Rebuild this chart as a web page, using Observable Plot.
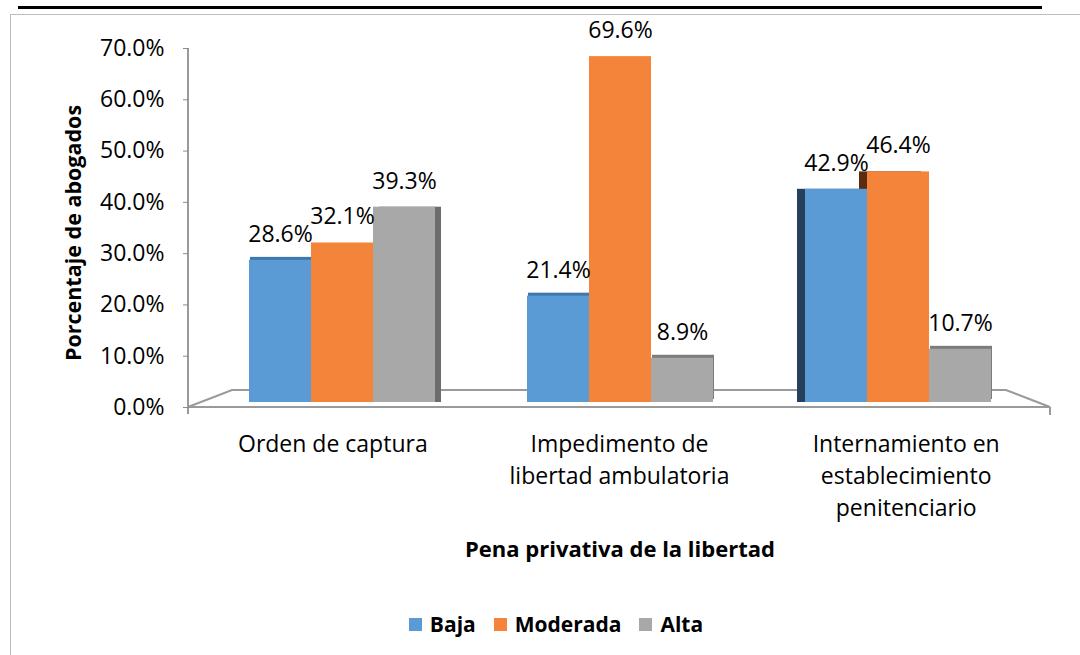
<!DOCTYPE html>
<html><head><meta charset="utf-8">
<script src="https://cdn.jsdelivr.net/npm/d3@7"></script>
<script src="https://cdn.jsdelivr.net/npm/@observablehq/plot@0.6"></script>
<style>
body{margin:0;background:#fff;font-family:"Open Sans",sans-serif;color:#000;}
#wrap{position:relative;width:1080px;height:655px;overflow:hidden;background:#fff;}
#topline{position:absolute;left:18px;top:6px;width:1024px;height:3px;background:#000;}
#frame{position:absolute;left:10px;top:14px;width:1100px;height:700px;border:1.5px solid #bdbdbd;}
#chart{position:absolute;left:0;top:0;}
#ytitle{position:absolute;left:-77px;top:218px;width:300px;line-height:30px;text-align:center;transform:rotate(-90deg);font-weight:bold;font-size:21.5px;}
#xtitle{position:absolute;left:320px;width:600px;top:533px;line-height:30px;text-align:center;font-weight:bold;font-size:22px;}
#legend{position:absolute;left:256px;width:600px;top:610px;display:flex;justify-content:center;align-items:center;font-weight:bold;font-size:21px;line-height:28px;}
#legend .item{display:flex;align-items:center;margin:0 9px;}
#legend .sw{width:13px;height:13px;margin-right:8px;}
</style></head>
<body>
<div id="wrap">
  <div id="topline"></div>
  <div id="frame"></div>
  <div id="chart"></div>
  <div id="ytitle">Porcentaje de abogados</div>
  <div id="xtitle">Pena privativa de la libertad</div>
  <div id="legend"></div>
</div>
<script>
const categories = ["Orden de captura", "Impedimento de libertad ambulatoria", "Internamiento en establecimiento penitenciario"];
const tickLabels = ["Orden de captura", "Impedimento de\nlibertad ambulatoria", "Internamiento en\nestablecimiento\npenitenciario"];
const series = ["Baja", "Moderada", "Alta"];
const baja = [28.6, 21.4, 42.9];
const moderada = [32.1, 69.6, 46.4];
const alta = [39.3, 8.9, 10.7];
const yTicks = [0, 10, 20, 30, 40, 50, 60, 70];

const colors = ["#5b9bd5", "#f3843a", "#a8a8a8"];
const topColors = ["#3f78ad", "#c0621f", "#7c7c7c"];
const sideColors = ["#253f5c", "#5b2c0f", "#6c6c6c"];

// 3D perspective: bars stand on a plane set back from the axis plane
const backBase = 0.975, backScale = 0.969;
const proj = v => backBase + backScale * v;

const values = [baja, moderada, alta];
const rows = [];
categories.forEach((c, i) => series.forEach((s, j) => rows.push({cat: c, series: s, value: values[j][i], ci: i, si: j})));

const rightSides = rows.filter(d => d.ci === 0 && d.si === 2);
const leftSides = rows.filter(d => d.ci === 2 && d.si <= 1);
const tops = rows.filter(d => d.value < 30 && d.si !== 1);

const ML = 202, MR = 42, H = 600, MT = 48, MB = 193, AX = 14;
const W = 1080;
// category labels sit on the wider front edge of the floor
const frontW = (W - MR + 12) - (ML - AX), backW = W - MR - ML;
const labelShift = i => (i - 1) * (frontW / 3 - backW / 3) + (ML - AX + frontW / 2) - (ML + backW / 2);

const common = {fx: "cat", x: "series", y1: () => proj(0), y2: d => proj(d.value)};
const plot = Plot.plot({
  width: W, height: H,
  marginTop: MT, marginBottom: MB, marginLeft: ML, marginRight: MR,
  style: {fontFamily: "Open Sans", fontSize: "23px", color: "#000", background: "transparent", overflow: "visible"},
  fx: {domain: categories, paddingInner: 0, paddingOuter: 0, label: null, axis: null},
  x: {domain: series, paddingInner: 0, paddingOuter: 0.734, axis: null},
  y: {domain: [0, 70], axis: null},
  color: {domain: series, range: colors},
  marks: [
    Plot.axisY({ticks: yTicks, tickFormat: d => d.toFixed(1) + "%", dx: -AX, tickSize: 6, tickPadding: 19, stroke: "#8c8c8c", fontSize: 23, label: null}),
    ...categories.map((c, i) => Plot.text([c], {fx: d => d, frameAnchor: "bottom", lineAnchor: "top", dy: 22, dx: labelShift(i), text: d => tickLabels[categories.indexOf(d)], fontSize: 23, lineHeight: 1.38, fill: "#000"})),
    Plot.rectY(rightSides, {...common, fill: d => sideColors[d.si], dx: 6}),
    Plot.rectY(leftSides, {...common, fill: d => sideColors[d.si], dx: -8}),
    Plot.rectY(tops, {...common, fill: d => topColors[d.si], dy: -3, dx: 1}),
    Plot.rectY(rows, {...common, fill: "series"}),
    Plot.text(rows, {fx: "cat", x: "series", y: d => proj(d.value), text: d => d.value.toFixed(1) + "%", dy: -26, fontSize: 23, fill: "#000"})
  ]
});
document.getElementById("chart").appendChild(plot);

// 3D floor under the bars, derived from the y scale and frame
const y = plot.scale("y");
const y0 = y.apply(0), yTop = y.apply(70);
const xL = ML - AX, xR = W - MR + 12, depth = 17, skew = 44;
const svg = d3.select(plot);
const g = svg.insert("g", ":first-child").attr("fill", "none").attr("stroke", "#9a9a9a").attr("stroke-width", 2);
g.append("path").attr("d", `M${xL},${y0}L${xL + skew},${y0 - depth}L${xR - skew},${y0 - depth}L${xR},${y0}Z`);
g.append("path").attr("d", `M${xL},${yTop}L${xL},${y0 + 7}M${xR},${y0}L${xR},${y0 + 8}`);

const legend = document.getElementById("legend");
series.forEach((s, j) => {
  const it = document.createElement("div"); it.className = "item";
  const sw = document.createElement("div"); sw.className = "sw"; sw.style.background = colors[j];
  const t = document.createElement("span"); t.textContent = s;
  it.appendChild(sw); it.appendChild(t); legend.appendChild(it);
});
</script>
</body></html>
